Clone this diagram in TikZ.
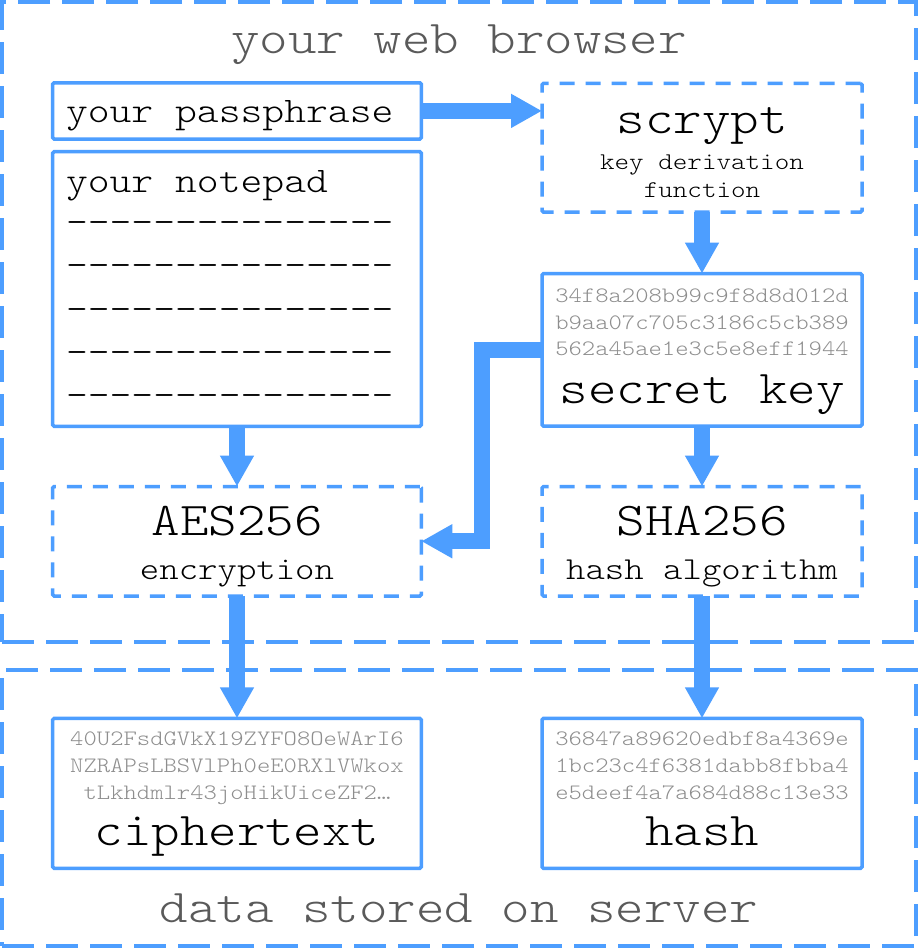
\documentclass[tikz,border=0pt]{standalone}
\usepackage{fontspec}
\usetikzlibrary{arrows.meta}
\newfontfamily\cour{Latin Modern Mono Light}[FakeStretch=1.155]
\definecolor{bblue}{HTML}{4D9EFF}
\definecolor{tgray}{HTML}{5A5A5A}
\definecolor{hgray}{HTML}{8E8E8E}
\newcommand\fbig{\cour\fontsize{47}{56}\selectfont}
\newcommand\fmid{\cour\fontsize{36}{43}\selectfont}
\newcommand\fsub{\cour\fontsize{32}{38}\selectfont}
\newcommand\fkdf{\cour\fontsize{24}{28}\selectfont}
\newcommand\fhex{\cour\fontsize{22}{26}\selectfont}
\newcommand\nphy{-\kern0pt}
\newcommand\nprow{\nphy\nphy\nphy\nphy\nphy\nphy\nphy\nphy\nphy\nphy\nphy\nphy\nphy\nphy\nphy}
\begin{document}
\begin{tikzpicture}[x=1pt,y=-1pt,
  solidbox/.style={draw=bblue, line width=3.5pt, rounded corners=1.5pt, inner sep=0pt, outer sep=0pt, fill=white},
  dashbox/.style={solidbox, dash pattern=on 15pt off 11pt},
  zone/.style={draw=bblue, line width=3.5pt, dash pattern=on 32pt off 12pt, inner sep=0pt, outer sep=0pt},
  flow/.style={draw=bblue, line width=16pt, -{Triangle[length=31pt,width=32pt]}},
  txt/.style={inner sep=0pt, outer sep=0pt, anchor=base, text=black},
  ltxt/.style={txt, anchor=base west},
  hex/.style={txt, text=hgray, font=\fhex},
  ttl/.style={txt, text=tgray, font=\fbig}]
\useasboundingbox (0,0) rectangle (918,948);
\fill[white] (0,0) rectangle (918,948);

% zones
\node[zone, minimum width=914pt, minimum height=640pt] (browser) at (459,322) {};
\node[zone, minimum width=914pt, minimum height=276pt] (server) at (459,808) {};

% boxes
\node[solidbox, minimum width=368.6pt, minimum height=56.3pt] (pass) at (237,110.9) {};
\node[solidbox, minimum width=368.6pt, minimum height=274.6pt] (note) at (237,289) {};
\node[dashbox, minimum width=320pt, minimum height=128.7pt] (scrypt) at (702,147.7) {};
\node[solidbox, minimum width=320pt, minimum height=152.5pt] (key) at (702,349.8) {};
\node[dashbox, minimum width=368.6pt, minimum height=109.5pt] (aes) at (237,541.25) {};
\node[dashbox, minimum width=320pt, minimum height=109.5pt] (sha) at (702,541.25) {};
\node[solidbox, minimum width=368.6pt, minimum height=150pt] (ciph) at (237,793.3) {};
\node[solidbox, minimum width=320pt, minimum height=150pt] (hash) at (702,793.3) {};

% titles
\node[ttl] (tbrowser) at (459,53) {your web browser};
\node[ttl] (tserver) at (459,922) {data stored on server};

% passphrase and notepad
\node[ltxt, font=\fmid] (tpass) at (66,122) {your passphrase};
\node[ltxt, font=\fmid] (tnote) at (66,192) {your notepad};
\node[ltxt, font=\fmid] (row1) at (66,233.3) {\nprow};
\node[ltxt, font=\fmid] (row2) at (66,276.7) {\nprow};
\node[ltxt, font=\fmid] (row3) at (66,320) {\nprow};
\node[ltxt, font=\fmid] (row4) at (66,363.3) {\nprow};
\node[ltxt, font=\fmid] (row5) at (66,406.7) {\nprow};

% scrypt
\node[txt, font=\fbig] (tscrypt) at (702,133) {scrypt};
\node[txt, font=\fkdf] (tkdf1) at (702,169) {key derivation};
\node[txt, font=\fkdf] (tkdf2) at (702,197) {function};

% secret key
\node[hex] (k1) at (702,302) {34f8a208b99c9f8d8d012d};
\node[hex] (k2) at (702,329) {b9aa07c705c3186c5cb389};
\node[hex] (k3) at (702,355.5) {562a45ae1e3c5e8eff1944};
\node[txt, font=\fbig] (tkey) at (702,403) {secret key};

% AES / SHA
\node[txt, font=\fbig] (taes) at (237,535) {AES256};
\node[txt, font=\fsub] (tenc) at (237,579) {encryption};
\node[txt, font=\fbig] (tsha) at (702,535) {SHA256};
\node[txt, font=\fsub] (thalg) at (702,579) {hash algorithm};

% ciphertext
\node[hex] (c1) at (237,745) {40U2FsdGVkX19ZYFO8OeWArI6};
\node[hex] (c2) at (237,772) {NZRAPsLBSVlPh0eE0RXlVWkox};
\node[hex] (c3) at (237,799) {tLkhdmlr43joHikUiceZF2…};
\node[txt, font=\fbig] (tciph) at (237,845) {ciphertext};

% hash
\node[hex] (h1) at (702,745) {36847a89620edbf8a4369e};
\node[hex] (h2) at (702,772) {1bc23c4f6381dabb8fbba4};
\node[hex] (h3) at (702,799) {e5deef4a7a684d88c13e33};
\node[txt, font=\fbig] (thash) at (702,845) {hash};

% arrows
\draw[flow] (pass.east) -- (pass.east -| scrypt.west);
\draw[flow] (scrypt.south) -- (key.north);
\draw[flow] (note.south) -- (aes.north);
\draw[flow] (key.south) -- (sha.north);
\draw[flow] (key.west) -- ++(-60,0) |- (aes.east);
\draw[flow] (aes.south) -- (ciph.north);
\draw[flow] (sha.south) -- (hash.north);
\end{tikzpicture}
\end{document}
